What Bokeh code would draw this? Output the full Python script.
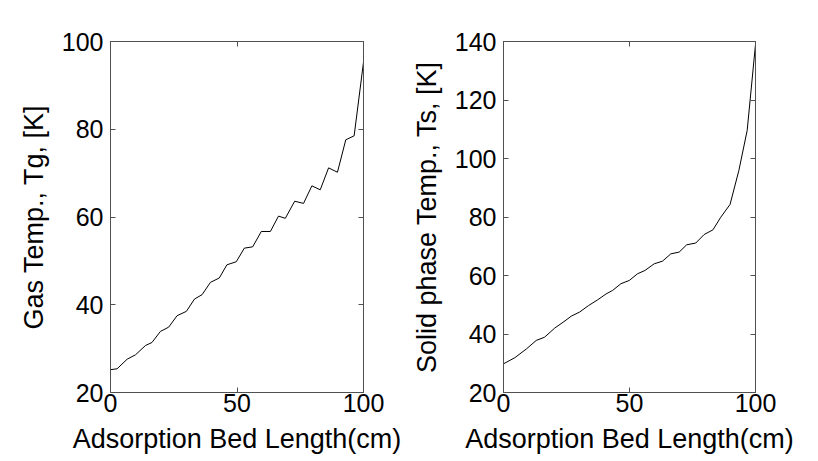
from bokeh.plotting import figure
from bokeh.layouts import row
from bokeh.models import Range1d, FixedTicker, LinearAxis
from bokeh.embed import file_html
from bokeh.resources import INLINE

# Gas phase temperature along bed
gas_x = [0, 2.6, 6.6, 9.9, 13.8, 16.4, 19.7, 23.0, 26.3, 30.0, 33.2, 36.2, 39.5, 43.0, 46.0,
         49.7, 52.9, 56.2, 59.6, 63.2, 66.4, 69.1, 72.8, 76.3, 79.6, 82.9, 86.2, 89.7, 93.0, 96.3, 100]
gas_t = [25.2, 25.4, 27.6, 28.6, 30.7, 31.4, 33.9, 34.9, 37.5, 38.5, 41.3, 42.3, 45.1, 46.1, 49.1,
         49.8, 52.9, 53.2, 56.7, 56.7, 60.2, 59.7, 63.6, 63.1, 67.1, 66.2, 71.2, 70.2, 77.6, 78.5, 95.3]

# Solid phase temperature along bed
solid_x = [0, 4.5, 9.1, 13.0, 16.3, 20.3, 23.6, 26.9, 30.2, 33.7, 37.4, 40.7, 43.3, 46.6, 49.9,
           53.2, 56.1, 59.8, 63.1, 66.4, 69.7, 72.7, 76.3, 79.6, 83.1, 86.2, 89.9, 93.4, 96.7, 100]
solid_t = [29.8, 31.9, 34.9, 37.8, 38.9, 42.0, 44.0, 46.1, 47.5, 49.7, 51.7, 53.7, 54.9, 57.2, 58.3,
           60.6, 61.7, 64.0, 64.9, 67.4, 68.0, 70.5, 71.1, 74.0, 75.6, 79.9, 84.3, 95.9, 109.6, 139.0]

x_ticks = [0, 50, 100]
gas_ticks = [20, 40, 60, 80, 100]
solid_ticks = [20, 40, 60, 80, 100, 120, 140]

FONT = "Liberation Sans"
FRAME = "#505050"


def mirror_axis(ticks):
    return LinearAxis(ticker=FixedTicker(ticks=ticks),
                      major_label_overrides={t: "" for t in ticks},
                      major_tick_in=5, major_tick_out=0, minor_tick_in=0, minor_tick_out=0,
                      axis_line_color=FRAME, major_tick_line_color=FRAME,
                      major_label_standoff=0)


def make(xs, ys, yticks, ymax, ylabel, w, bl, br):
    p = figure(width=w, height=460, output_backend="svg", toolbar_location=None,
               x_range=Range1d(0, 100), y_range=Range1d(20, ymax),
               min_border_left=bl, min_border_right=br, min_border_top=41, min_border_bottom=68,
               x_axis_label="Adsorption Bed Length(cm)", y_axis_label=ylabel)
    p.line(xs, ys, line_color="black", line_width=1)
    p.grid.visible = False
    p.outline_line_color = FRAME
    p.outline_line_width = 1
    p.xaxis.ticker = FixedTicker(ticks=x_ticks)
    p.yaxis.ticker = FixedTicker(ticks=yticks)
    for ax in (p.xaxis[0], p.yaxis[0]):
        ax.major_tick_in = 5
        ax.major_tick_out = 0
        ax.minor_tick_in = 0
        ax.minor_tick_out = 0
        ax.axis_line_color = FRAME
        ax.major_tick_line_color = FRAME
        ax.major_label_text_font = FONT
        ax.major_label_text_font_size = "25px"
        ax.major_label_text_color = "black"
        ax.axis_label_text_font = FONT
        ax.axis_label_text_font_size = "27px"
        ax.axis_label_text_font_style = "normal"
        ax.axis_label_text_color = "black"
    p.xaxis.major_label_standoff = 1
    p.xaxis.axis_label_standoff = 9
    p.yaxis.major_label_standoff = 7
    p.yaxis.axis_label_standoff = 10
    p.add_layout(mirror_axis(x_ticks), "above")
    p.add_layout(mirror_axis(yticks), "right")
    return p


p1 = make(gas_x, gas_t, gas_ticks, 100, "Gas Temp., Tg, [K]", 408, 110, 45)
p2 = make(solid_x, solid_t, solid_ticks, 140, "Solid phase Temp., Ts, [K]", 400, 94, 53)

layout = row(p1, p2)
open("out.html", "w").write(file_html(layout, INLINE))
